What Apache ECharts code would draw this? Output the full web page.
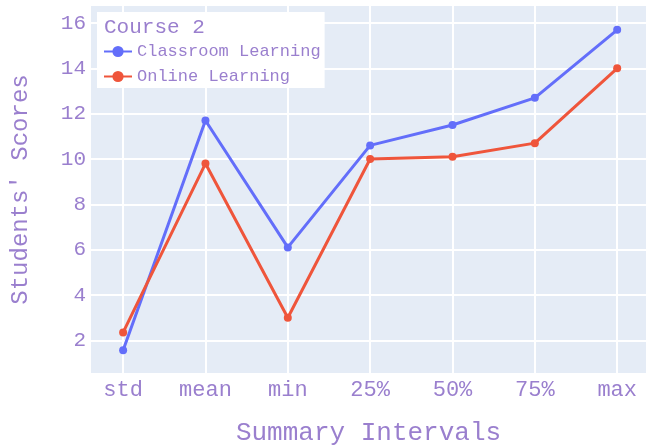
<!DOCTYPE html>
<html>
<head>
<meta charset="utf-8">
<script src="https://cdn.jsdelivr.net/npm/echarts@6/dist/echarts.min.js"></script>
<style>
  html, body { margin: 0; padding: 0; background: #fff; }
  #main { width: 646px; height: 445px; }
</style>
</head>
<body>
<div id="main"></div>
<script>
    var myChart = echarts.init(document.getElementById('main'));

    // summary intervals on the x axis
    var categories = ['std', 'mean', 'min', '25%', '50%', '75%', 'max'];
    var classroom = [1.56, 11.7, 6.1, 10.6, 11.5, 12.7, 15.7];
    var online = [2.35, 9.8, 3.0, 10.0, 10.1, 10.7, 14.0];
    var yTicks = [2, 4, 6, 8, 10, 12, 14, 16];

    var textColor = '#9a7fce';
    var fontFam = '"Liberation Mono", "DejaVu Sans Mono", monospace';

    function pairs(values) {
        return values.map(function (v, i) {
            return [i, v];
        });
    }

    option = {
        backgroundColor: '#ffffff',
        // legend title
        title: {
            text: 'Course 2',
            left: 99,
            top: 12,
            textStyle: {
                fontFamily: fontFam,
                fontSize: 21,
                fontWeight: 'normal',
                color: textColor
            }
        },
        legend: {
            orient: 'vertical',
            left: 97,
            top: 12,
            padding: [31, 4, 3, 6],
            backgroundColor: '#ffffff',
            itemWidth: 28,
            itemHeight: 14,
            itemGap: 8,
            textStyle: {
                fontFamily: fontFam,
                fontSize: 17,
                color: textColor
            },
            data: ['Classroom Learning', 'Online Learning']
        },
        grid: {
            left: 91,
            right: 0,
            top: 6,
            bottom: 72,
            outerBoundsMode: 'none',
            containLabel: false,
            show: true,
            backgroundColor: '#E5ECF6',
            borderWidth: 0
        },
        xAxis: {
            type: 'value',
            min: -0.39,
            max: 6.35,
            name: 'Summary Intervals',
            nameLocation: 'middle',
            nameGap: 47,
            nameTextStyle: {
                fontFamily: fontFam,
                fontSize: 26,
                color: textColor
            },
            axisLine: { show: false },
            axisTick: { show: false, customValues: [0, 1, 2, 3, 4, 5, 6] },
            axisLabel: {
                customValues: [0, 1, 2, 3, 4, 5, 6],
                fontFamily: fontFam,
                fontSize: 22,
                color: textColor,
                margin: 6,
                formatter: function (v) {
                    return categories[Math.round(v)];
                }
            },
            splitLine: {
                show: true,
                lineStyle: { color: '#ffffff', width: 2 }
            }
        },
        yAxis: {
            type: 'value',
            min: 0.56,
            max: 16.75,
            name: "Students' Scores",
            nameLocation: 'middle',
            nameGap: 58,
            nameTextStyle: {
                fontFamily: fontFam,
                fontSize: 24,
                color: textColor
            },
            axisLine: { show: false },
            axisTick: { show: false, customValues: yTicks },
            axisLabel: {
                customValues: yTicks,
                fontFamily: fontFam,
                fontSize: 21,
                color: textColor,
                margin: 5
            },
            splitLine: {
                show: true,
                lineStyle: { color: '#ffffff', width: 2 }
            }
        },
        series: [{
            name: 'Classroom Learning',
            type: 'line',
            data: pairs(classroom),
            symbol: 'circle',
            symbolSize: 8,
            lineStyle: { width: 3, color: '#636efa' },
            itemStyle: { color: '#636efa' }
        }, {
            name: 'Online Learning',
            type: 'line',
            data: pairs(online),
            symbol: 'circle',
            symbolSize: 8,
            lineStyle: { width: 3, color: '#EF553B' },
            itemStyle: { color: '#EF553B' }
        }]
    };

    myChart.setOption(option);
</script>
</body>
</html>
